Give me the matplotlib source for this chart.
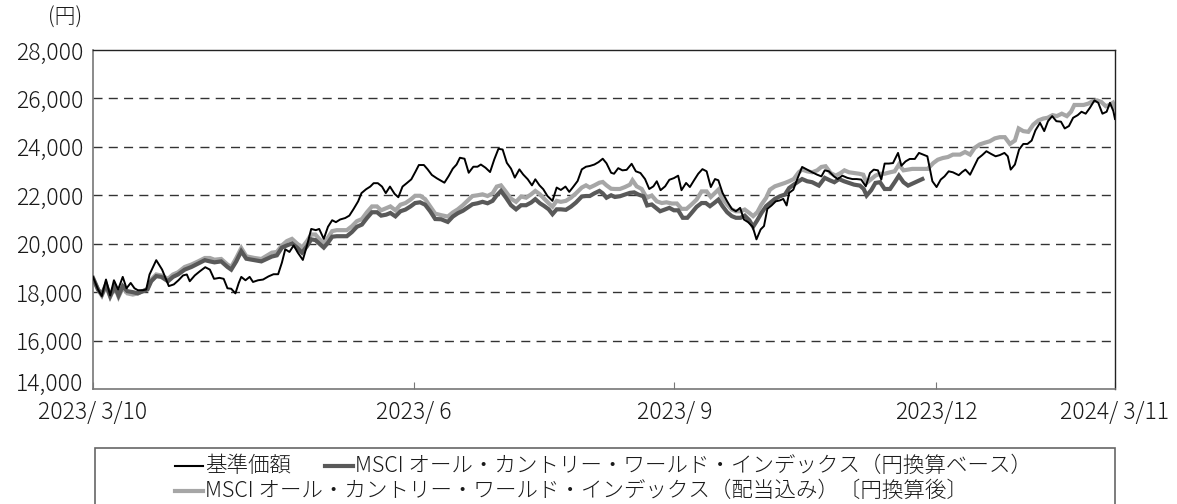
import matplotlib
matplotlib.use("Agg")
import matplotlib.pyplot as plt
from matplotlib.lines import Line2D
from matplotlib.patches import Rectangle
from matplotlib.ticker import FuncFormatter
from matplotlib.transforms import ScaledTranslation

plt.rcParams['font.family'] = ['Noto Sans CJK JP', 'DejaVu Sans']
plt.rcParams['font.weight'] = 'light'

# ---- data (x = trading-day index from 2023/3/10) ----
nav_day = [0.0, 1.2, 2.1, 3.1, 4.1, 5.0, 6.0, 7.1, 8.0, 9.0, 9.9, 10.7, 11.9, 12.7, 13.5, 15.1, 16.5, 18.1, 19.3,
           20.4, 21.5, 22.4, 23.1, 24.3, 25.5, 26.8, 27.9, 28.9, 30.2, 31.2, 32.1, 33.0, 34.0, 34.8, 35.4, 36.4,
           37.4, 38.2, 39.4, 40.6, 41.9, 43.1, 44.2, 45.1, 45.9, 46.9, 47.9, 48.9, 50.1, 51.1, 52.1, 53.2, 54.0,
           55.1, 56.1, 57.1, 58.0, 59.0, 60.2, 61.2, 62.2, 63.3, 64.1, 65.2, 66.2, 67.0, 68.0, 69.0, 69.9, 70.9,
           72.0, 72.9, 73.9, 74.9, 76.0, 77.0, 77.8, 79.0, 79.9, 80.9, 82.1, 83.9, 84.9, 85.9, 86.8, 87.6, 88.7,
           89.7, 90.8, 91.8, 92.6, 93.7, 94.8, 95.8, 96.8, 97.8, 98.8, 99.8, 100.7, 101.8, 102.7, 103.8, 104.8,
           105.6, 106.6, 107.5, 108.5, 109.7, 110.7, 111.7, 112.8, 113.7, 114.7, 115.7, 116.7, 117.7, 118.6,
           119.7, 120.7, 121.7, 122.6, 123.7, 124.4, 125.4, 126.4, 127.4, 128.6, 129.6, 130.7, 131.8, 132.8,
           133.8, 134.6, 135.5, 136.6, 137.6, 138.7, 139.7, 140.5, 141.6, 142.5, 143.5, 144.5, 145.5, 146.5,
           147.5, 148.5, 149.3, 150.3, 151.4, 152.5, 153.5, 154.5, 155.4, 156.4, 157.5, 158.4, 159.4, 160.2,
           161.0, 162.0, 163.0, 164.0, 164.8, 165.6, 166.2, 167.2, 168.1, 169.3, 170.5, 171.7, 172.9, 173.9,
           174.7, 175.7, 176.9, 177.8, 178.9, 180.1, 181.3, 182.3, 183.4, 184.5, 185.5, 186.4, 187.4, 188.2,
           189.0, 190.0, 191.0, 192.2, 193.0, 194.0, 195.0, 196.2, 197.2, 198.2, 199.2, 200.4, 201.4, 202.4,
           203.3, 204.3, 205.3, 206.7, 207.5, 208.3, 209.4, 210.4, 211.3, 212.3, 213.3, 214.4, 215.5, 216.5,
           217.6, 218.4, 219.1, 220.1, 221.1, 222.1, 223.1, 224.1, 225.0, 226.1, 227.1, 228.0, 229.0, 230.0,
           231.1, 232.0, 233.0, 234.0, 235.1, 236.0, 237.0, 238.0, 239.1, 240.0, 241.0, 242.0, 242.8, 243.6, 244.0]
nav_val = [18630, 18110, 17840, 18520, 17860, 18490, 18110, 18630, 18160, 18380, 18160, 18080, 18080, 18110, 18730,
           19320, 18930, 18250, 18320, 18490, 18690, 18730, 18450, 18690, 18860, 19030, 18930, 18550, 18590, 18550,
           18160, 18140, 17950, 18380, 18630, 18490, 18630, 18420, 18490, 18520, 18650, 18740, 18740, 19220, 19770,
           19660, 19930, 19630, 19330, 19930, 20610, 20560, 20610, 20200, 20700, 20970, 20890, 21000, 21060, 21160,
           21430, 21750, 22090, 22250, 22360, 22500, 22500, 22360, 22090, 22360, 22060, 21920, 22360, 22500, 22660,
           22980, 23250, 23250, 23070, 22840, 22700, 22520, 22790, 23100, 23270, 23550, 23510, 22930, 23180, 23180,
           23270, 23140, 22960, 23480, 23920, 23890, 23340, 23100, 22730, 23070, 22860, 22660, 22410, 22660, 22410,
           22250, 21970, 21770, 22320, 22220, 22360, 22140, 22360, 22590, 23070, 23180, 23210, 23270, 23370, 23510,
           23320, 22930, 22890, 23120, 23030, 23050, 23300, 22990, 22920, 22670, 22260, 22370, 22580, 22210, 22370,
           22640, 22710, 22810, 22210, 22510, 22340, 22620, 22890, 23080, 22990, 22340, 22670, 22620, 22100, 21750,
           21440, 21340, 21480, 21000, 20890, 20700, 20180, 20590, 20730, 21440, 21580, 21750, 21790, 21850, 21580,
           22100, 22230, 22650, 23170, 23060, 22950, 22850, 22780, 23030, 22990, 22780, 22670, 22810, 22720, 22670,
           22670, 22650, 22370, 22920, 23060, 23030, 22650, 23310, 23310, 23330, 23750, 23220, 23400, 23500, 23500,
           23750, 23680, 23610, 22580, 22340, 22650, 22780, 22990, 22950, 22830, 22960, 23060, 22850, 23200, 23520,
           23660, 23820, 23710, 23610, 23660, 23750, 23610, 23060, 23270, 23890, 24120, 24120, 24260, 24680, 24990,
           24650, 25060, 25270, 25060, 25040, 24760, 24860, 25200, 25310, 25450, 25370, 25610, 25920, 25820, 25370,
           25450, 25820, 25480, 25150]

msci_day = [0.0, 1.2, 2.1, 3.1, 4.1, 5.2, 6.1, 7.1, 8.2, 9.5, 10.7, 11.9, 13.0, 13.9, 15.1, 16.3, 17.9, 19.1, 20.3,
            21.9, 23.5, 25.1, 26.7, 27.9, 29.0, 30.6, 32.1, 33.0, 34.2, 35.4, 36.6, 38.6, 40.2, 42.7, 43.9, 45.1,
            46.3, 47.5, 48.7, 49.9, 51.1, 52.1, 53.1, 54.0, 55.1, 56.1, 57.1, 58.2, 59.4, 60.6, 61.8, 63.0, 64.2,
            65.4, 66.6, 67.8, 68.8, 70.0, 71.0, 72.2, 73.4, 74.6, 75.8, 76.9, 78.1, 79.3, 80.5, 81.7, 83.1, 84.7,
            85.9, 87.1, 88.3, 89.4, 90.6, 91.8, 93.0, 94.2, 95.4, 96.4, 97.4, 98.6, 99.8, 101.0, 102.2, 103.4,
            104.6, 105.6, 106.7, 107.7, 108.8, 109.7, 110.7, 111.7, 112.9, 114.1, 115.3, 116.7, 117.7, 118.6,
            119.7, 120.9, 121.7, 122.6, 123.7, 124.6, 125.8, 127.0, 128.2, 129.2, 130.2, 131.4, 132.3, 133.4,
            134.4, 135.4, 136.5, 137.6, 138.7, 139.7, 140.8, 141.9, 142.9, 144.1, 145.3, 146.3, 147.3, 148.3,
            149.3, 150.3, 151.4, 152.5, 153.5, 154.6, 155.6, 156.7, 157.6, 158.6, 159.6, 160.7, 161.6, 162.8,
            164.0, 165.2, 166.2, 167.3, 168.5, 169.3, 170.5, 171.7, 173.3, 174.7, 175.9, 177.0, 178.1, 179.3,
            180.5, 181.7, 183.1, 184.0, 184.7, 185.8, 186.8, 187.9, 189.0, 190.3, 191.4, 192.4, 193.5, 194.6,
            195.6, 196.8, 198.0]
msci_val = [18590, 18110, 17900, 18320, 17840, 18250, 17860, 18250, 18040, 18000, 17950, 18040, 18110, 18450, 18660,
            18630, 18450, 18630, 18730, 18930, 19040, 19180, 19320, 19270, 19230, 19270, 19040, 18930, 19270, 19690,
            19380, 19320, 19270, 19470, 19520, 19840, 19930, 20010, 19840, 19630, 19900, 20180, 20150, 20010, 19840,
            20040, 20290, 20310, 20310, 20310, 20480, 20700, 20790, 21060, 21300, 21300, 21160, 21200, 21270, 21130,
            21340, 21410, 21540, 21680, 21710, 21610, 21340, 21020, 21010, 20900, 21120, 21260, 21360, 21490, 21630,
            21670, 21730, 21670, 21770, 22000, 22180, 21900, 21590, 21420, 21590, 21590, 21700, 21840, 21670, 21560,
            21420, 21220, 21420, 21420, 21400, 21530, 21700, 21950, 21970, 21970, 22080, 22180, 22080, 21900, 22000,
            21930, 21960, 22030, 22100, 22120, 22030, 21960, 21580, 21620, 21480, 21340, 21410, 21480, 21380, 21380,
            21070, 21070, 21270, 21520, 21680, 21680, 21550, 21680, 21820, 21550, 21300, 21140, 21070, 21070, 21160,
            20970, 20700, 20970, 21270, 21550, 21680, 21850, 21960, 22030, 22300, 22440, 22580, 22670, 22580, 22540,
            22400, 22720, 22620, 22540, 22670, 22580, 22510, 22440, 22400, 22260, 21990, 22210, 22510, 22540, 22260,
            22260, 22540, 22810, 22540, 22400, 22480, 22580, 22670]

mscid_day = [0.0, 1.2, 2.1, 3.1, 4.1, 5.2, 6.1, 7.1, 8.2, 9.5, 10.7, 11.9, 13.0, 13.9, 15.1, 16.3, 17.9, 19.1, 20.3,
             21.9, 23.5, 25.1, 26.7, 27.9, 29.0, 30.6, 32.1, 33.0, 34.2, 35.4, 36.6, 38.6, 40.2, 42.7, 43.9, 45.1,
             46.3, 47.5, 48.7, 49.9, 51.1, 52.1, 53.1, 54.0, 55.1, 56.1, 57.1, 58.2, 59.4, 60.6, 61.8, 63.0, 64.2,
             65.4, 66.6, 67.8, 68.8, 70.0, 71.0, 72.2, 73.4, 74.6, 75.8, 76.9, 78.1, 79.3, 80.5, 81.7, 83.1, 84.7,
             85.9, 87.1, 88.3, 89.4, 90.6, 91.8, 93.0, 94.2, 95.4, 96.4, 97.4, 98.6, 99.8, 101.0, 102.2, 103.4,
             104.6, 105.6, 106.7, 107.7, 108.8, 109.7, 110.7, 111.7, 112.9, 114.1, 115.3, 116.7, 117.7, 118.6,
             119.7, 120.9, 121.7, 122.6, 123.7, 124.6, 125.8, 127.0, 128.2, 128.8, 129.8, 131.0, 132.2, 133.4,
             134.6, 135.8, 136.9, 138.2, 139.4, 140.5, 141.7, 142.9, 144.1, 145.3, 146.5, 147.5, 148.5, 149.3,
             150.3, 151.4, 152.5, 153.5, 154.6, 155.6, 156.7, 157.6, 158.6, 159.6, 160.7, 161.6, 162.8, 164.0,
             165.2, 166.2, 167.3, 168.5, 169.3, 170.5, 171.7, 172.9, 173.9, 174.9, 176.1, 177.3, 178.5, 179.4,
             180.5, 181.7, 182.9, 183.9, 184.7, 185.8, 186.8, 187.9, 189.0, 190.3, 191.4, 192.4, 193.5, 194.6,
             195.6, 196.8, 198.0, 199.3, 200.6, 201.7, 202.9, 204.1, 205.3, 207.0, 208.2, 209.4, 210.5, 211.7,
             212.9, 214.1, 215.3, 216.5, 217.7, 218.9, 220.1, 221.0, 222.1, 223.3, 224.5, 225.7, 226.9, 227.9,
             229.1, 230.1, 231.3, 232.5, 233.5, 234.3, 235.4, 236.5, 237.7, 238.7, 239.7, 240.7, 241.8, 242.7,
             243.5, 244.0]
mscid_val = [18550, 18110, 17860, 18250, 17810, 18220, 17810, 18180, 17950, 17900, 17950, 18040, 18140, 18520, 18730,
             18690, 18550, 18730, 18820, 19040, 19140, 19270, 19410, 19410, 19340, 19370, 19140, 19040, 19410, 19820,
             19480, 19410, 19370, 19630, 19660, 19930, 20110, 20200, 20010, 19840, 20110, 20380, 20380, 20200, 20010,
             20250, 20520, 20560, 20560, 20560, 20720, 20930, 21020, 21300, 21540, 21540, 21380, 21470, 21540, 21380,
             21610, 21680, 21820, 21980, 21980, 21840, 21540, 21240, 21180, 21120, 21290, 21420, 21590, 21770, 21970,
             22000, 22040, 21970, 22080, 22360, 22410, 22140, 21860, 21730, 21950, 21900, 22040, 22180, 22040, 21860,
             21670, 21530, 21770, 21730, 21770, 21900, 22080, 22320, 22410, 22320, 22410, 22520, 22550, 22410, 22270,
             22260, 22260, 22340, 22440, 22620, 22370, 22260, 21890, 21990, 21750, 21680, 21710, 21660, 21660, 21440,
             21440, 21620, 21820, 22160, 22160, 21930, 22100, 22230, 21850, 21620, 21410, 21340, 21340, 21410, 21270,
             21140, 21300, 21620, 21890, 22230, 22370, 22440, 22510, 22580, 22670, 22950, 23060, 22990, 22950, 23030,
             23170, 23200, 22920, 22810, 22920, 23030, 22950, 22920, 22890, 22850, 22510, 22670, 22810, 22890, 22890,
             22950, 22990, 23270, 23030, 23060, 23090, 23090, 23090, 23090, 23330, 23470, 23540, 23580, 23680, 23680,
             23790, 23680, 23960, 24100, 24170, 24230, 24350, 24400, 24400, 24120, 24260, 24760, 24650, 24620, 24920,
             25090, 25170, 25200, 25310, 25270, 25370, 25270, 25450, 25730, 25730, 25730, 25790, 25890, 25920, 25860,
             25680, 25730, 25820, 25610]

tick_pos = [0, 76.6, 138.8, 201.3, 244]
tick_labels = ["2023/ 3/10", "2023/ 6", "2023/ 9", "2023/12", "2024/ 3/11"]
y_ticks = [14000, 16000, 18000, 20000, 22000, 24000, 26000, 28000]
legend_labels = ["基準価額",
                 "MSCI オール・カントリー・ワールド・インデックス（円換算ベース）",
                 "MSCI オール・カントリー・ワールド・インデックス（配当込み）〔円換算後〕"]

# ---- styles ----
c_nav = "#000000"
c_msci = "#595959"
c_mscid = "#a6a6a6"
c_text = "#1a1a1a"

fig = plt.figure(figsize=(11.77, 5.04), dpi=100)
ax = fig.add_axes([93 / 1177, 1 - 389 / 504, (1115 - 93) / 1177, (389 - 50) / 504])

for yv in y_ticks[1:-1]:
    ax.axhline(yv, color="#333333", lw=1.0, dashes=(6.5, 4.5), zorder=1)

ax.plot(mscid_day, mscid_val, color=c_mscid, lw=3.0, zorder=2, solid_joinstyle="miter")
ax.plot(msci_day, msci_val, color=c_msci, lw=3.0, zorder=3, solid_joinstyle="miter")
ax.plot(nav_day, nav_val, color=c_nav, lw=1.4, zorder=4)

ax.set_xlim(0, 244)
ax.set_ylim(14000, 28000)
ax.set_yticks(y_ticks)
ax.yaxis.set_major_formatter(FuncFormatter(lambda v, p: f"{int(v):,}"))
ax.tick_params(axis="y", length=0, pad=7, labelsize=16.5, colors=c_text)
ax.set_xticks(tick_pos)
ax.set_xticklabels(tick_labels)
ax.tick_params(axis="x", direction="in", length=5, width=0.8, color="#777777", pad=8,
               labelsize=16.5, labelcolor=c_text)
# lift the lowest y label slightly so it clears the date labels
ylab0 = ax.get_yticklabels()[0]
ylab0.set_transform(ylab0.get_transform() + ScaledTranslation(0, 8 / 100, fig.dpi_scale_trans))

for s in ["left", "bottom"]:
    ax.spines[s].set_color("#777777")
    ax.spines[s].set_linewidth(1.2)
for s in ["top", "right"]:
    ax.spines[s].set_color("#222222")
    ax.spines[s].set_linewidth(1.0)

fig.text(65 / 1177, 1 - 18 / 504, "(円)", ha="center", va="center", fontsize=15, color=c_text)

# ---- legend (drawn manually to match two-row layout) ----
fig.patches.append(Rectangle((95 / 1177, -0.05), (1115 - 95) / 1177, 0.05 + 1 - 448 / 504,
                             transform=fig.transFigure, fill=False, edgecolor="#666666", lw=1.2))
rows = [(466, 175, c_nav, 1.5, legend_labels[0]),
        (466, 325, c_msci, 3.0, legend_labels[1]),
        (491, 175, c_mscid, 3.0, legend_labels[2])]
for y, x0, col, lw, lab in rows:
    yy = 1 - y / 504
    fig.add_artist(Line2D([x0 / 1177, (x0 + 28) / 1177], [yy, yy], color=col, lw=lw,
                          transform=fig.transFigure))
    fig.text((x0 + 30) / 1177, yy, lab, ha="left", va="center", fontsize=15.5, color=c_text)

fig.savefig("out.png", dpi=100)
